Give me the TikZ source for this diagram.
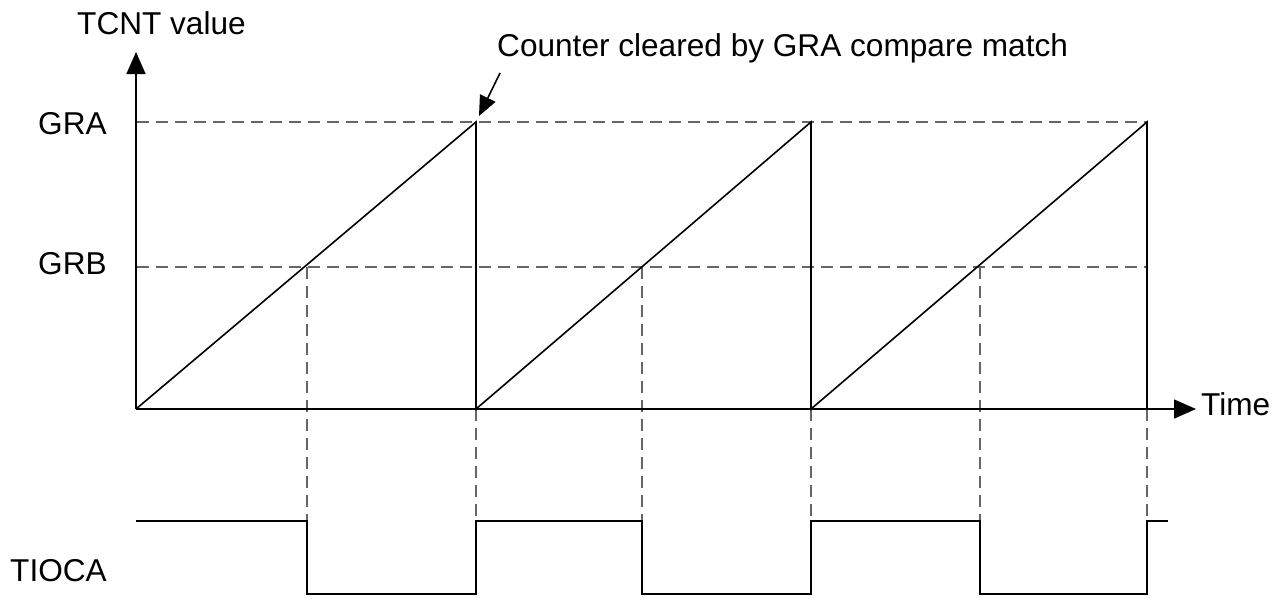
\documentclass[tikz,border=0pt]{standalone}
\usepackage{fontspec}
\setmainfont{Liberation Sans}
\usetikzlibrary{arrows.meta}
\begin{document}
\begin{tikzpicture}[x=1pt,y=-1pt,
  solidline/.style={line width=1.6pt,black},
  guide/.style={line width=1.4pt,black!60,dash pattern=on 12pt off 7pt},
  axisarrow/.style={solidline,-{Triangle[length=22pt,width=19pt]}},
  lbl/.style={anchor=base west,inner sep=0pt,font=\fontsize{31.6}{37}\selectfont}]
\useasboundingbox (0,0) rectangle (1283,598);
% key coordinates
\coordinate (O) at (136,409);
\coordinate (ytop) at (136,52);
\coordinate (xend) at (1196,409);
\coordinate (a1) at (476,122);
\coordinate (a2) at (811,122);
\coordinate (a3) at (1147,122);
\coordinate (z1) at (476,409);
\coordinate (z2) at (811,409);
\coordinate (z3) at (1147,409);
\coordinate (g0) at (137,122);
\coordinate (h0) at (137,267);
\coordinate (h3) at (1147,267);
\coordinate (b1) at (307,267);
\coordinate (b2) at (642,267);
\coordinate (b3) at (980,267);
\coordinate (b1d) at (307,521);
\coordinate (b2d) at (642,521);
\coordinate (b3d) at (980,521);
\coordinate (z1d) at (476,521);
\coordinate (z2d) at (811,521);
\coordinate (z3d) at (1147,521);
\coordinate (ptail) at (500,73);
\coordinate (ptip) at (479,116);
% labels
\node[lbl] (tcnt) at (77,34.5) {TCNT value};
\node[lbl] (gra) at (38,134) {GRA};
\node[lbl] (grb) at (38,274) {GRB};
\node[lbl] (tioca) at (10,581.5) {TIOCA};
\node[lbl] (time) at (1201,415) {Time};
\node[lbl] (cnt) at (497,56.7) {Counter cleared by GRA compare match};
% guides
\draw[guide] (g0) -- (a3);
\draw[guide] (h0) -- (h3);
\draw[guide] (b1) -- (b1d);
\draw[guide] (b2) -- (b2d);
\draw[guide] (b3) -- (b3d);
\draw[guide] (z1) -- (z1d);
\draw[guide] (z2) -- (z2d);
\draw[guide] (z3) -- (z3d);
% axes
\draw[axisarrow] (O) -- (ytop);
\draw[axisarrow] (O) -- (xend);
% ramps
\draw[solidline,line join=miter] (O) -- (a1) -- (z1) -- (a2) -- (z2) -- (a3) -- (z3);
% TIOCA waveform
\draw[solidline] (136,521) -- (307,521) -- (307,594) -- (476,594) -- (476,521)
  -- (642,521) -- (642,594) -- (811,594) -- (811,521) -- (980,521) -- (980,594)
  -- (1147,594) -- (1147,521) -- (1168,521);
% annotation arrow
\draw[solidline,-{Triangle[length=20pt,width=17pt]}] (ptail) -- (ptip);
\end{tikzpicture}
\end{document}
